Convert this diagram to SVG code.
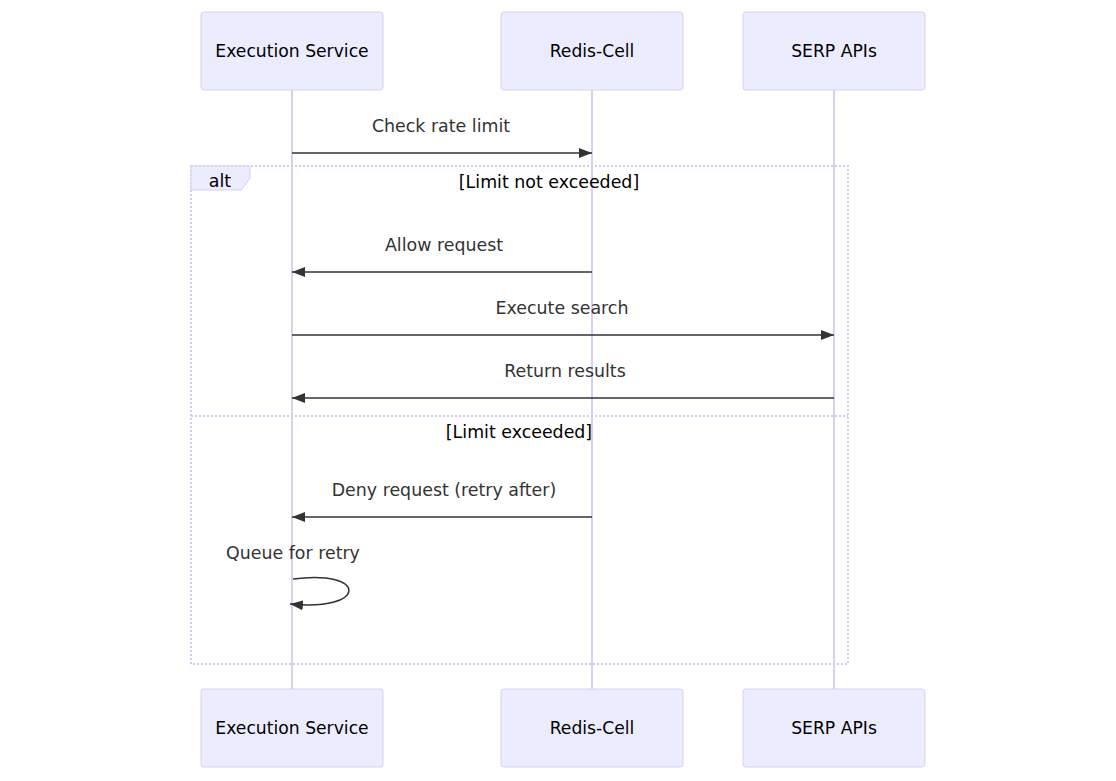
<svg xmlns="http://www.w3.org/2000/svg" width="1116" height="781" viewBox="0 0 1116 781">
<style>
.actor{fill:#ECECFF;stroke:#dacef3;stroke-width:1}
.actor-text{font-family:"DejaVu Sans",Verdana,sans-serif;font-size:17.2px;fill:#000;text-anchor:middle;dominant-baseline:central}
.lifeline{stroke:#d6caf2;stroke-width:1.8;fill:none}
.msg{stroke:#333;stroke-width:1.5;fill:none}
.msg-text{font-family:"DejaVu Sans",Verdana,sans-serif;font-size:17.4px;fill:#333;text-anchor:middle;dominant-baseline:central}
.loop-line{stroke:#d6caf2;stroke-width:2;stroke-dasharray:2 2;fill:none}
.label-box{fill:#ECECFF;stroke:#dacef3;stroke-width:1}
.label-text{font-family:"DejaVu Sans",Verdana,sans-serif;font-size:17.4px;fill:#000;text-anchor:middle;dominant-baseline:central}
</style>
<defs>
<marker id="arrow" viewBox="0 0 13 10" refX="13" refY="5" markerWidth="13" markerHeight="10" markerUnits="userSpaceOnUse" orient="auto">
<path d="M0,0 L13,5 L0,10 z" fill="#333"/>
</marker>
</defs>
<rect width="1116" height="781" fill="#fff"/>
<g id="lifelines">
<line class="lifeline" x1="292" y1="90" x2="292" y2="689"/>
<line class="lifeline" x1="592" y1="90" x2="592" y2="689"/>
<line class="lifeline" x1="834" y1="90" x2="834" y2="689"/>
</g>
<g id="alt-block">
<rect class="loop-line" x="191" y="166" width="657" height="498"/>
<line class="loop-line" x1="191" y1="416" x2="848" y2="416"/>
<polygon class="label-box" points="191,166 250,166 250,178 241.5,190 191,190"/>
<text class="label-text" x="220" y="181">alt</text>
<text class="label-text" x="549" y="182">[Limit not exceeded]</text>
<text class="label-text" x="519" y="432">[Limit exceeded]</text>
</g>
<g id="actor-exec-top"><rect class="actor" x="201" y="12" width="182" height="78" rx="3"/><text class="actor-text" x="292" y="51">Execution Service</text></g>
<g id="actor-redis-top"><rect class="actor" x="501" y="12" width="182" height="78" rx="3"/><text class="actor-text" x="592" y="51">Redis-Cell</text></g>
<g id="actor-serp-top"><rect class="actor" x="743" y="12" width="182" height="78" rx="3"/><text class="actor-text" x="834" y="51">SERP APIs</text></g>
<g id="actor-exec-bottom"><rect class="actor" x="201" y="689" width="182" height="78" rx="3"/><text class="actor-text" x="292" y="728">Execution Service</text></g>
<g id="actor-redis-bottom"><rect class="actor" x="501" y="689" width="182" height="78" rx="3"/><text class="actor-text" x="592" y="728">Redis-Cell</text></g>
<g id="actor-serp-bottom"><rect class="actor" x="743" y="689" width="182" height="78" rx="3"/><text class="actor-text" x="834" y="728">SERP APIs</text></g>
<g id="connectors">
<text class="msg-text" x="441" y="126">Check rate limit</text>
<line class="msg" x1="292" y1="153" x2="592" y2="153" marker-end="url(#arrow)"/>
<text class="msg-text" x="444" y="245">Allow request</text>
<line class="msg" x1="592" y1="272" x2="292" y2="272" marker-end="url(#arrow)"/>
<text class="msg-text" x="562" y="308">Execute search</text>
<line class="msg" x1="292" y1="335" x2="834" y2="335" marker-end="url(#arrow)"/>
<text class="msg-text" x="565" y="371">Return results</text>
<line class="msg" x1="834" y1="398" x2="292" y2="398" marker-end="url(#arrow)"/>
<text class="msg-text" x="444" y="490">Deny request (retry after)</text>
<line class="msg" x1="592" y1="517" x2="292" y2="517" marker-end="url(#arrow)"/>
<text class="msg-text" x="293" y="553">Queue for retry</text>
<path class="msg" d="M293,579 C368,569 368,612 290,604" marker-end="url(#arrow)"/>
</g>
</svg>
